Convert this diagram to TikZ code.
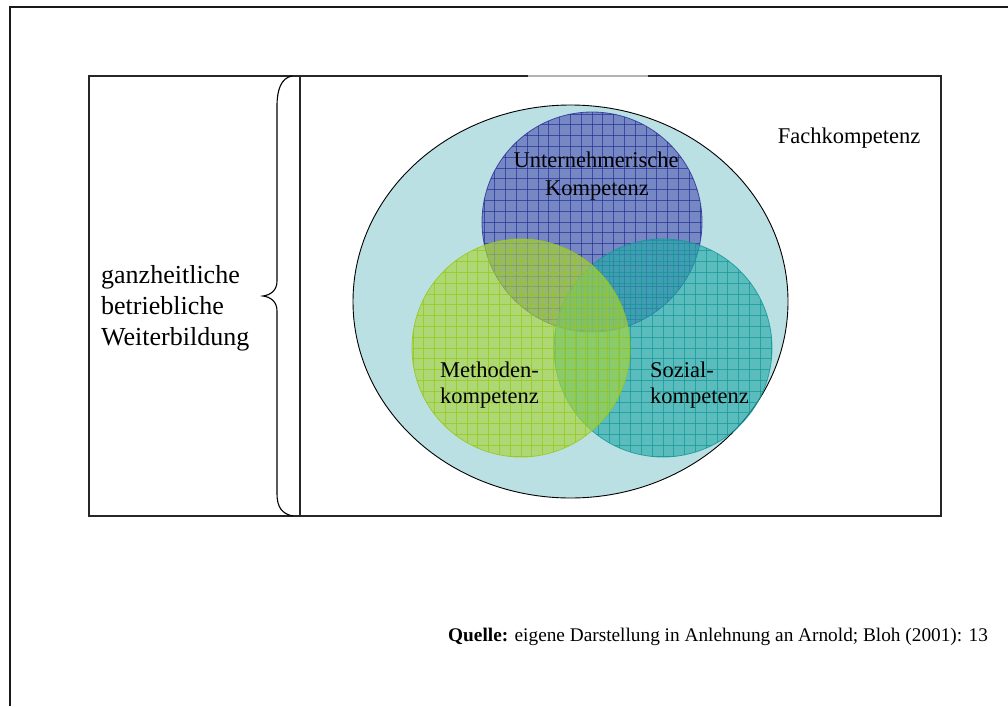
\documentclass[tikz,border=0pt]{standalone}
\usepackage{fontspec}
\setmainfont{Liberation Serif}
\definecolor{ellfill}{RGB}{187,224,227}
\definecolor{bluefill}{RGB}{82,90,178}
\definecolor{bluegrid}{RGB}{40,46,150}
\definecolor{tealfill}{RGB}{38,169,170}
\definecolor{tealgrid}{RGB}{20,150,150}
\definecolor{greenfill}{RGB}{168,212,60}
\definecolor{greengrid}{RGB}{150,200,20}
% hatched competence circle: #1 x, #2 y, #3 radius, #4 fill, #5 grid colour
\newcommand\gridcirc[5]{%
  \fill[#4, fill opacity=0.65] (#1,#2) circle [radius=#3];
  \begin{scope}
    \clip (#1,#2) circle [radius=#3];
    \foreach \k in {-10,...,10}{
      \draw[#5, line width=0.7pt, opacity=0.7] (#1+\k*10.8,#2-#3) -- (#1+\k*10.8,#2+#3);
      \draw[#5, line width=0.7pt, opacity=0.7] (#1-#3,#2+\k*10.8) -- (#1+#3,#2+\k*10.8);
    }
  \end{scope}
  \draw[#5, line width=0.8pt, opacity=0.8] (#1,#2) circle [radius=#3];
}
\begin{document}
\begin{tikzpicture}[x=1pt,y=-1pt,
  box/.style={draw=black!85, line width=1.1pt},
  ctext/.style={inner sep=0pt, anchor=base, font=\fontsize{22.5}{27}\selectfont},
  ltext/.style={inner sep=0pt, anchor=base west, font=\fontsize{22.5}{27}\selectfont},
  side/.style={inner sep=0pt, anchor=base west, font=\fontsize{26}{31}\selectfont}]
\useasboundingbox (0,0) rectangle (1008,706);

% page frame
\draw[line width=2pt, draw=black!90] (9.5,706) -- (9.5,7) -- (1008,7);

% outer box with divider
\draw[box] (89,76) rectangle (941,516);
\draw[draw=black!30, line width=1.4pt] (528,76) -- (648,76);
\draw[box] (300,76) -- (300,516);

% brace
\draw[line width=1.1pt] (292,76) .. controls (281,78) and (277,90) .. (277,106)
  -- (277,281) .. controls (277,290) and (271,295) .. (263,296)
  .. controls (271,297) and (277,302) .. (277,311)
  -- (277,494) .. controls (277,507) and (282,514) .. (293,516);

% Fachkompetenz
\draw[fill=ellfill, line width=0.9pt] (570.5,301.5) ellipse [x radius=217.5, y radius=196.5];

% three overlapping competences
\gridcirc{592}{222}{110}{bluefill}{bluegrid}
\gridcirc{663}{348}{109}{tealfill}{tealgrid}
\gridcirc{521}{348}{109}{greenfill}{greengrid}

% labels
\node[ctext] (fach) at (849,143) {Fachkompetenz};
\node[ctext] (unt1) at (596,167) {Unternehmerische};
\node[ctext] (unt2) at (597,195) {Kompetenz};
\node[ltext] (meth1) at (440,377) {Methoden-};
\node[ltext] (meth2) at (440,403) {kompetenz};
\node[ltext] (soz1) at (650,377) {Sozial-};
\node[ltext] (soz2) at (650,403) {kompetenz};

\node[side] (g1) at (101,283) {ganzheitliche};
\node[side] (g2) at (101,314) {betriebliche};
\node[side] (g3) at (101,345) {Weiterbildung};

\node[inner sep=0pt, anchor=base west, font=\fontsize{19.3}{23}\selectfont] (quelle) at (448,641)
  {\textbf{Quelle:} eigene Darstellung in Anlehnung an Arnold; Bloh (2001): 13};
\end{tikzpicture}
\end{document}
